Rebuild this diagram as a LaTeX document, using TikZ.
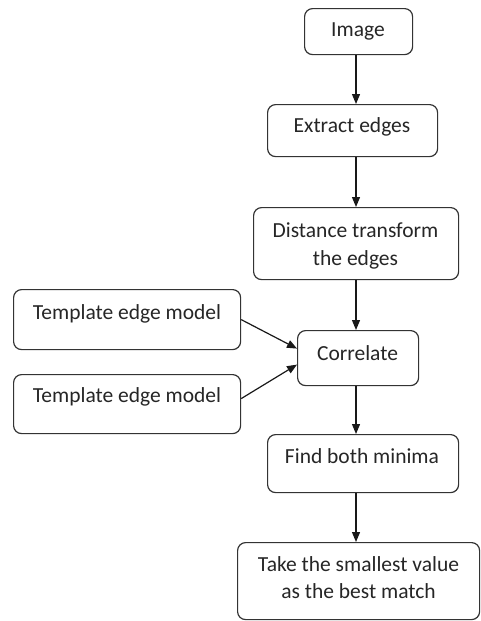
\documentclass[tikz,border=0pt]{standalone}
\usepackage{fontspec}
\setmainfont{Carlito}
\usetikzlibrary{arrows.meta}
\begin{document}
\begin{tikzpicture}[x=1pt,y=-1pt,
  box/.style={draw=black!80, line width=1.2pt, rounded corners=8pt, anchor=north west, inner sep=0pt},
  txt/.style={anchor=base, inner sep=0pt, text=black!85, font=\fontsize{21.5}{27}\selectfont},
  arr/.style={draw=black!90, line width=1.2pt, -{Triangle[length=10pt,width=8pt]}}]
\useasboundingbox[fill=white] (0,0) rectangle (480,621);
% boxes
\node[box, minimum width=108pt, minimum height=46pt] (img) at (304,8) {};
\node[box, minimum width=170pt, minimum height=52pt] (ext) at (267,104) {};
\node[box, minimum width=205pt, minimum height=72pt] (dist) at (253,207) {};
\node[box, minimum width=227pt, minimum height=60pt] (t1) at (13,289) {};
\node[box, minimum width=227pt, minimum height=59pt] (t2) at (13,374) {};
\node[box, minimum width=121pt, minimum height=55pt] (cor) at (297,330) {};
\node[box, minimum width=191pt, minimum height=58pt] (find) at (267,434) {};
\node[box, minimum width=242pt, minimum height=77pt] (take) at (237,542) {};
% texts
\node[txt] (imgT) at (358,36) {Image};
\node[txt] (extT) at (352,132) {Extract edges};
\node[txt] (distA) at (355.5,237) {Distance transform};
\node[txt] (distB) at (355.5,265) {the edges};
\node[txt] (t1T) at (127,319) {Template edge model};
\node[txt] (t2T) at (127,402) {Template edge model};
\node[txt] (corT) at (357.5,360) {Correlate};
\node[txt] (findT) at (362,463) {Find both minima};
\node[txt] (takeA) at (358.5,571) {Take the smallest value};
\node[txt] (takeB) at (358.5,598) {as the best match};
% connectors
\coordinate (axis) at (356,0);
\draw[arr] (img.south -| axis) -- (ext.north -| axis);
\draw[arr] (ext.south -| axis) -- (dist.north -| axis);
\draw[arr] (dist.south -| axis) -- (cor.north -| axis);
\draw[arr] (cor.south -| axis) -- (find.north -| axis);
\draw[arr] (find.south -| axis) -- (take.north -| axis);
\draw[arr] (t1.east) -- ([yshift=9.5pt]cor.west);
\draw[arr] ([yshift=5.5pt]t2.east) -- ([yshift=-6.5pt]cor.west);
\end{tikzpicture}
\end{document}
